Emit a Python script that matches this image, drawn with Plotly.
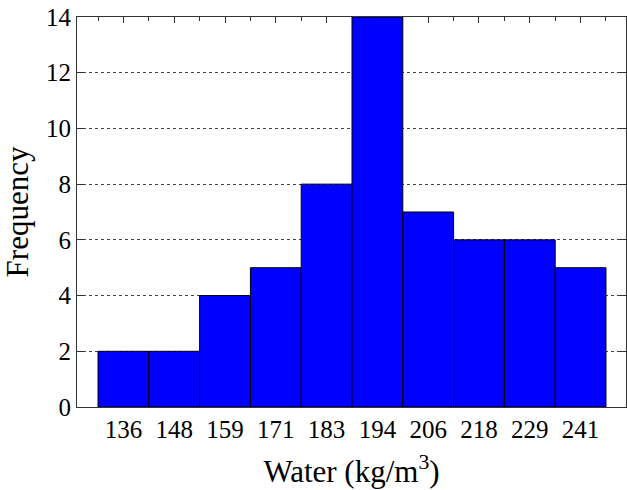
import plotly.graph_objects as go

# Data
bin_centers = [136.0, 147.667, 159.333, 171.0, 182.667, 194.333, 206.0, 217.667, 229.333, 241.0]
frequencies = [2, 2, 4, 5, 8, 14, 7, 6, 6, 5]
tick_labels = ["136", "148", "159", "171", "183", "194", "206", "218", "229", "241"]
bin_width = 11.6667

edges = [c - bin_width / 2 for c in bin_centers] + [bin_centers[-1] + bin_width / 2]

fig = go.Figure()
fig.add_trace(go.Bar(
    x=bin_centers, y=frequencies, width=[bin_width] * len(bin_centers),
    marker=dict(color="#0000FF", line=dict(color="black", width=1)),
))

font_family = "Liberation Serif, Times New Roman, serif"
fig.update_layout(
    width=627, height=490,
    margin=dict(l=77, r=1, t=17, b=83),
    plot_bgcolor="white", paper_bgcolor="white",
    showlegend=False, hovermode=False,
    font=dict(family=font_family, color="black", size=24),
    bargap=0,
)
fig.update_xaxes(
    range=[125.34, 251.43], automargin=False,
    tickmode="array", tickvals=bin_centers, ticktext=tick_labels,
    ticks="inside", ticklen=6, tickcolor="#333",
    minor=dict(tickmode="array", tickvals=edges, ticks="inside", ticklen=4, tickcolor="#333", showgrid=False),
    showline=True, linecolor="#333", linewidth=1, mirror="ticks",
    showgrid=False, zeroline=False, layer="below traces",
    tickfont=dict(size=25),
    title=dict(text="Water (kg/m<sup>3</sup>)", font=dict(size=31), standoff=18),
)
fig.update_yaxes(
    range=[0, 14], automargin=False, tickmode="array", tickvals=list(range(0, 15, 2)),
    ticks="inside", ticklen=7, tickcolor="#333",
    showline=True, linecolor="#333", linewidth=1, mirror="ticks",
    showgrid=True, gridcolor="#444", griddash="dot", gridwidth=1,
    zeroline=False, layer="below traces",
    tickfont=dict(size=25),
    title=dict(text="Frequency", font=dict(size=31), standoff=12),
)
fig.write_html(
    "out.html",
    config={"displayModeBar": False, "staticPlot": True},
    post_script="document.body.style.margin='0';document.body.style.overflow='hidden';",
)
